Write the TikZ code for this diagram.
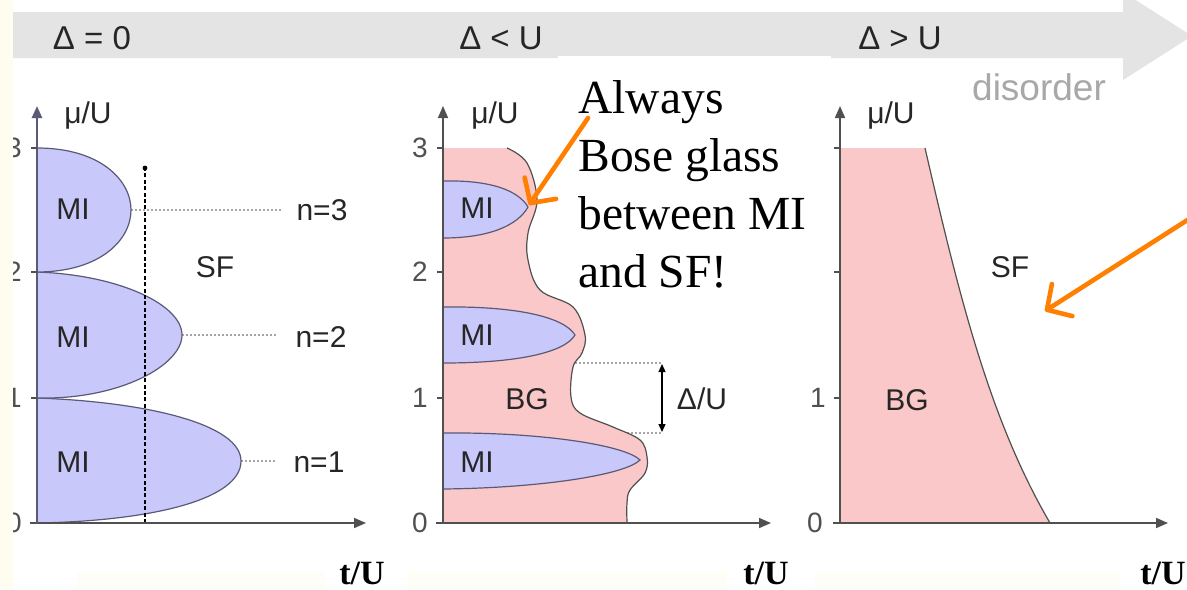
\documentclass[tikz,border=0pt]{standalone}
\usepackage{fontspec}
\setmainfont{Liberation Serif}
\newfontfamily\arialf{Liberation Sans}
\usetikzlibrary{arrows.meta}
\definecolor{bandc}{HTML}{E4E4E4}
\definecolor{mic}{HTML}{C8C8FA}
\definecolor{bgc}{HTML}{FAC8C8}
\definecolor{ink}{HTML}{262626}
\definecolor{axisc}{HTML}{505050}
\definecolor{lobec}{HTML}{5A5A78}
\definecolor{orng}{HTML}{FF7F00}
\definecolor{pale}{HTML}{FFFDF0}
\definecolor{paler}{HTML}{FFFEF6}
\definecolor{dis}{HTML}{A8A8A8}
\begin{document}
\begin{tikzpicture}[x=0.5pt,y=-0.5pt,
  lbl/.style={font=\arialf\fontsize{15}{17}\selectfont, text=ink, inner sep=0pt},
  num/.style={lbl, font=\arialf\fontsize{14}{16}\selectfont, text=axisc, anchor=east},
  head/.style={font=\arialf\fontsize{16.5}{18}\selectfont, text=ink, inner sep=0pt},
  axisline/.style={draw=axisc, line width=0.8pt, -{Triangle[length=6pt,width=5pt]}},
  tickline/.style={draw=axisc, line width=0.6pt},
  lobe/.style={fill=mic, draw=lobec, line width=0.6pt},
  glass/.style={fill=bgc},
  glassedge/.style={draw=axisc, line width=0.6pt},
  guide/.style={draw=gray!70, line width=0.6pt, dash pattern=on 1pt off 1pt},
  cut/.style={draw=black, line width=1.1pt, dash pattern=on 2pt off 1.2pt},
  orarrow/.style={draw=orng, line width=2.3pt, line cap=round, -{Straight Barb[length=9pt,width=19pt,round]}},
  note/.style={font=\fontsize{23.75}{28}\selectfont, inner sep=0pt, anchor=base west},
  tu/.style={font=\bfseries\fontsize{17}{20}\selectfont, inner sep=0pt, anchor=base}]
\useasboundingbox (0,0) rectangle (1187,589);
\begin{scope}
\clip (0,0) rectangle (1187,589);
\fill[white] (0,0) rectangle (1187,589);
% disorder band arrow
\fill[bandc] (13,12) -- (1123,12) -- (1123,-8) -- (1192,36) -- (1123,80) -- (1123,58) -- (13,58) -- cycle;
\node[head] (h1) at (92,38) {Δ = 0};
\node[head] (h2) at (501,38) {Δ < U};
\node[head] (h3) at (900,38) {Δ > U};
\node[font=\arialf\fontsize{18.5}{20}\selectfont, text=dis, inner sep=0pt] (dis) at (1039,87) {disorder};

% ---------- panel 1 ----------
\draw[guide] (131,210) -- (283,210);
\draw[guide] (182,335) -- (278,335);
\draw[guide] (241,461) -- (277,461);
\draw[lobe] (37,523) .. controls (150,521) and (241,500) .. (241,461) .. controls (241,425) and (150,402) .. (37,398) -- cycle;
\draw[lobe] (37,398) .. controls (120,400) and (182,365) .. (182,335) .. controls (182,305) and (120,275) .. (37,272) -- cycle;
\draw[lobe] (37,272) .. controls (100,272) and (131,240) .. (131,210) .. controls (131,180) and (100,148) .. (37,148) -- cycle;
\draw[cut] (145,523) -- (145,168);
\fill (145,168) circle (1.2pt);
\draw[axisline] (30,523) -- (366,523);
\draw[axisline, draw=lobec, line width=1.2pt] (37,523) -- (37,106);
\foreach \yy in {148,272,398} \draw[tickline] (31,\yy) -- (37,\yy);
\node[num] (a3) at (22,148) {3};
\node[num] (a2) at (22,272) {2};
\node[num] (a1) at (22,398) {1};
\node[num] (a0) at (22,523) {0};
\node[lbl] (mu1) at (88,116) {μ/U};
\node[lbl] (mi13) at (73,209) {MI};
\node[lbl] (mi12) at (73,337) {MI};
\node[lbl] (mi11) at (73,462) {MI};
\node[lbl] (sf1) at (215,267) {SF};
\node[lbl] (n3) at (322,210) {n=3};
\node[lbl] (n2) at (321,337) {n=2};
\node[lbl] (n1) at (319,462) {n=1};

% ---------- panel 2 ----------
\draw[guide] (443,363) -- (663,363);
\draw[guide] (443,433) -- (663,433);
\fill[glass] (443,523) -- (443,148) -- plot[smooth, tension=0.6] coordinates {(507,148) (527,163) (537,200) (528,233) (528,260) (540,290) (573,307) (585,335) (582,353) (573,367) (571,397) (580,413) (613,427) (640,440) (647,457) (645,473) (630,490) (627,503) (627,523)} -- cycle;
\draw[glassedge] plot[smooth, tension=0.6] coordinates {(507,148) (527,163) (537,200) (528,233) (528,260) (540,290) (573,307) (585,335) (582,353) (573,367) (571,397) (580,413) (613,427) (640,440) (647,457) (645,473) (630,490) (627,503) (627,523)};
\draw[lobe] (443,181) .. controls (490,180) and (518,190) .. (528,207) .. controls (518,225) and (490,238) .. (443,238) -- cycle;
\draw[lobe] (443,307) .. controls (520,306) and (565,318) .. (575,335) .. controls (565,352) and (520,363) .. (443,363) -- cycle;
\draw[lobe] (443,433) .. controls (540,432) and (625,445) .. (640,460) .. controls (625,475) and (540,488) .. (443,489) -- cycle;
\draw[axisline] (436,523) -- (771,523);
\draw[axisline] (443,523) -- (443,106);
\foreach \yy in {148,272,398} \draw[tickline] (437,\yy) -- (443,\yy);
\node[num] (b3) at (428,148) {3};
\node[num] (b2) at (428,272) {2};
\node[num] (b1) at (428,398) {1};
\node[num] (b0) at (428,523) {0};
\node[lbl] (mu2) at (495,116) {μ/U};
\node[lbl] (mi23) at (477,208) {MI};
\node[lbl] (mi22) at (477,335) {MI};
\node[lbl] (mi21) at (477,462) {MI};
\node[lbl] (bg2) at (527,399) {BG};
\coordinate (dtop) at (662,364);
\coordinate (dbot) at (662,432);
\draw[draw=black, line width=0.6pt, {Triangle[length=4pt,width=3.5pt]}-{Triangle[length=4pt,width=3.5pt]}] (dtop) -- (dbot);
\node[lbl] (du) at (702,399) {Δ/U};

% ---------- panel 3 ----------
\fill[glass] (840,523) -- (840,148) -- (925,148) .. controls (960,300) and (990,420) .. (1050,523) -- cycle;
\draw[glassedge] (925,148) .. controls (960,300) and (990,420) .. (1050,523);
\draw[axisline] (833,523) -- (1168,523);
\draw[axisline] (840,523) -- (840,106);
\foreach \yy in {148,272,398} \draw[tickline] (834,\yy) -- (840,\yy);
\node[num] (c1) at (826,398) {1};
\node[num] (c0) at (823,523) {0};
\node[lbl] (mu3) at (891,116) {μ/U};
\node[lbl] (sf3) at (1010,267) {SF};
\node[lbl] (bg3) at (907,400) {BG};

% ---------- slide overlay ----------
\fill[pale] (0,0) rectangle (13,589);
\fill[paler] (77,571) rectangle (325,589);
\fill[paler] (408,571) rectangle (727,589);
\fill[paler] (815,571) rectangle (1120,589);
\fill[white] (558,56) rectangle (831,296);
\node[note] (t1) at (578,113) {Always};
\node[note] (t2) at (578,171) {Bose glass};
\node[note] (t3) at (578,229) {between MI};
\node[note] (t4) at (578,287) {and SF!};
\coordinate (o1s) at (588,118);
\coordinate (o1e) at (529,205);
\draw[orarrow] (o1s) -- (o1e);
\coordinate (o2s) at (1200,212);
\coordinate (o2e) at (1045,311);
\draw[orarrow] (o2s) -- (o2e);
\node[tu] (tu1) at (362,584) {t/U};
\node[tu] (tu2) at (766,584) {t/U};
\node[tu] (tu3) at (1163,584) {t/U};
\end{scope}
\end{tikzpicture}
\end{document}
